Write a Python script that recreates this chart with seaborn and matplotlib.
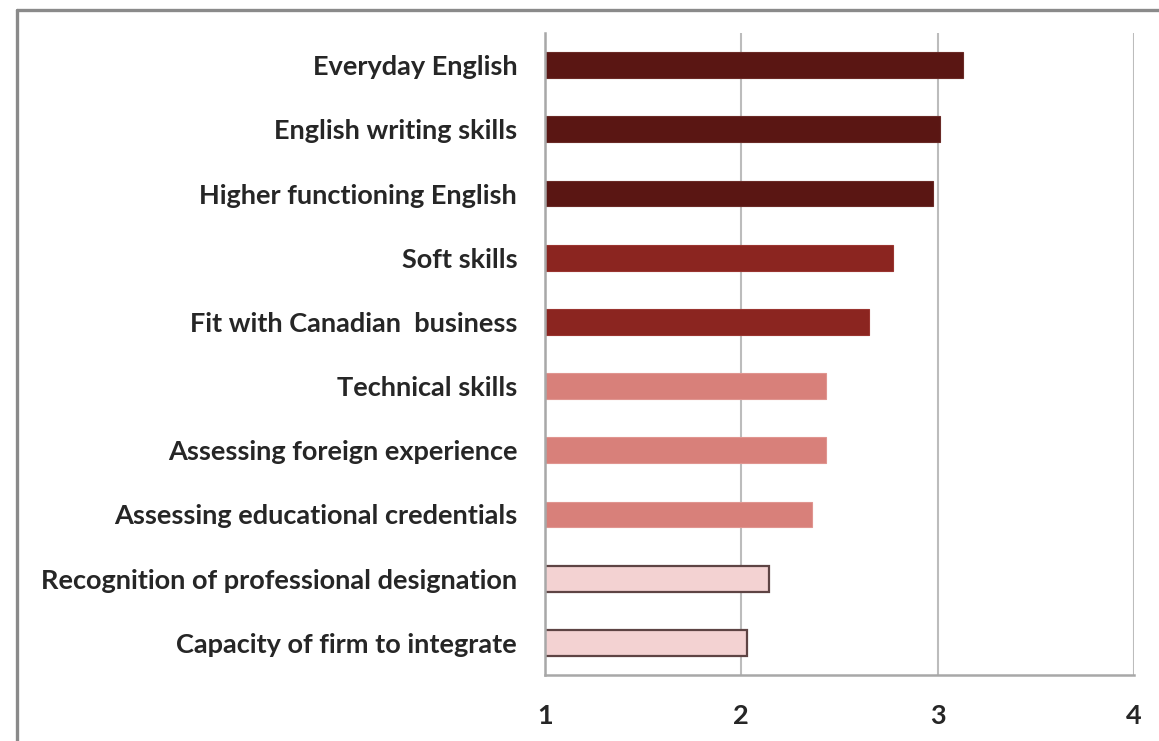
import matplotlib
matplotlib.use("Agg")
import matplotlib.pyplot as plt
from matplotlib.lines import Line2D
from matplotlib.ticker import FixedLocator
import numpy as np
import pandas as pd
import seaborn as sns

categories = [
    "Everyday English",
    "English writing skills",
    "Higher functioning English",
    "Soft skills",
    "Fit with Canadian  business",
    "Technical skills",
    "Assessing foreign experience",
    "Assessing educational credentials",
    "Recognition of professional designation",
    "Capacity of firm to integrate",
]
scores = [3.13, 3.01, 2.975, 2.77, 2.65, 2.43, 2.43, 2.36, 2.14, 2.03]
tier = ["high", "high", "high", "upper", "upper", "mid", "mid", "mid", "low", "low"]
x_ticks = [1, 2, 3, 4]

tier_colors = {"high": "#5a1613", "upper": "#8b2520", "mid": "#d8807a", "low": "#f3d2d2"}
tier_edges = {"high": "#6a2a26", "upper": "#9a3530", "mid": "#e09590", "low": "#5e4444"}

df = pd.DataFrame({"category": categories, "score": scores, "tier": tier})

sns.set_theme(style="white")
plt.rcParams["font.family"] = ["Lato", "DejaVu Sans"]

fig = plt.figure(figsize=(11.59, 7.41), dpi=100)
ax = fig.add_axes([545 / 1159, 1 - 675 / 741, (1134 - 545) / 1159, (675 - 33) / 741])

sns.barplot(
    data=df, y="category", x="score", hue="category",
    palette=[tier_colors[t] for t in tier], orient="h",
    width=0.4, legend=False, ax=ax, saturation=1,
)
for patch, t in zip(ax.patches, tier):
    patch.set_edgecolor(tier_edges[t])
    patch.set_linewidth(1.6 if t == "low" else 0.8)

ax.set_xlim(1, 4)
ax.set_ylim(len(categories) - 0.5, -0.5)
ax.set_xticks(x_ticks)
ax.set_xticklabels([str(v) for v in x_ticks])
ax.set_xlabel("")
ax.set_ylabel("")

# vertical gridlines at each whole score
ax.xaxis.grid(True, color="#bcbcbc", linewidth=1.5)
ax.set_axisbelow(True)

for side in ["top", "right"]:
    ax.spines[side].set_visible(False)
for side in ["left", "bottom"]:
    ax.spines[side].set_color("#a8a8a8")
    ax.spines[side].set_linewidth(1.8)

ax.tick_params(axis="x", which="major", direction="out", length=8, width=1.4,
               color="#b0b0b0", pad=13, labelsize=19.5, labelcolor="#262626")
for lbl in ax.get_xticklabels():
    lbl.set_fontweight("bold")

# category names without marks; short ticks sit between categories
ax.tick_params(axis="y", which="major", length=0, pad=20, labelsize=19.5, labelcolor="#262626")
for lbl in ax.get_yticklabels():
    lbl.set_fontweight("bold")
ax.yaxis.set_minor_locator(FixedLocator(np.arange(-0.5, len(categories), 1.0)))
ax.tick_params(axis="y", which="minor", direction="out", length=5, width=1.2, color="#b0b0b0")

# outer frame on the top and left edges
fig.add_artist(Line2D([17 / 1159, 1.0], [1 - 10 / 741, 1 - 10 / 741],
                      transform=fig.transFigure, color="#8a8a8a", linewidth=2.4))
fig.add_artist(Line2D([17 / 1159, 17 / 1159], [0.0, 1 - 10 / 741],
                      transform=fig.transFigure, color="#8a8a8a", linewidth=2.4))

fig.savefig("out.png", dpi=100, facecolor="white")
